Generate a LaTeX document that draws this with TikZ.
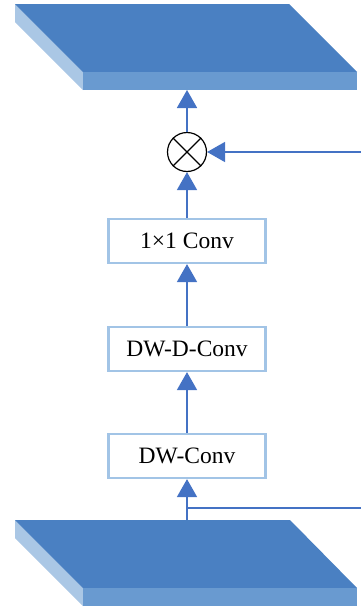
\documentclass[tikz,border=0pt]{standalone}
\usepackage{fontspec}
\setmainfont{Liberation Serif}
\usetikzlibrary{arrows.meta}
\definecolor{topface}{HTML}{4A80C2}
\definecolor{frontface}{HTML}{699AD0}
\definecolor{sideface}{HTML}{AAC7E5}
\definecolor{arrowblue}{HTML}{4472C4}
\definecolor{boxline}{HTML}{A2C4E6}
\tikzset{
  convbox/.style={draw=boxline, line width=2.2pt, fill=white, minimum width=157pt, minimum height=44pt, inner sep=0pt, font=\fontsize{23.5}{27}\selectfont},
  flow/.style={draw=arrowblue, line width=1.8pt, -{Triangle[length=18pt,width=20pt]}},
  plainflow/.style={draw=arrowblue, line width=1.8pt},
}
\begin{document}
\begin{tikzpicture}[x=1pt,y=-1pt]
\useasboundingbox (0,0) rectangle (361,608);
% top slab
\fill[sideface] (15,4) -- (83,72) -- (83,90) -- (15,22) -- cycle;
\fill[topface] (15,4) -- (289,4) -- (357,72) -- (83,72) -- cycle;
\fill[frontface] (83,72) rectangle (357,90);
\coordinate (topslab) at (187,90);
% bottom slab
\fill[sideface] (15,520) -- (83,588) -- (83,606) -- (15,538) -- cycle;
\fill[topface] (15,520) -- (290,520) -- (357,588) -- (83,588) -- cycle;
\fill[frontface] (83,588) rectangle (357,606);
\coordinate (botslab) at (187,520);
% nodes
\node[draw=black, line width=1.2pt, circle, minimum size=39pt, inner sep=0pt] (mul) at (187,152) {};
\draw[black, line width=1.2pt] (mul.45) -- (mul.225) (mul.135) -- (mul.315);
\node[convbox] (c11) at (187,241) {1×1 Conv};
\node[convbox] (dwd) at (187,349) {DW-D-Conv};
\node[convbox] (dw) at (187,456) {DW-Conv};
\coordinate (branch) at (187,508);
\coordinate (rightin) at (361,152);
\coordinate (rightout) at (361,508);
% connectors
\draw[flow] (botslab) -- (dw.south);
\draw[flow] (dw.north) -- (dwd.south);
\draw[flow] (dwd.north) -- (c11.south);
\draw[flow] (c11.north) -- (mul.south);
\draw[flow] (mul.north) -- (topslab);
\draw[plainflow] (branch) -- (rightout);
\draw[flow] (rightin) -- (mul.east);
\end{tikzpicture}
\end{document}
